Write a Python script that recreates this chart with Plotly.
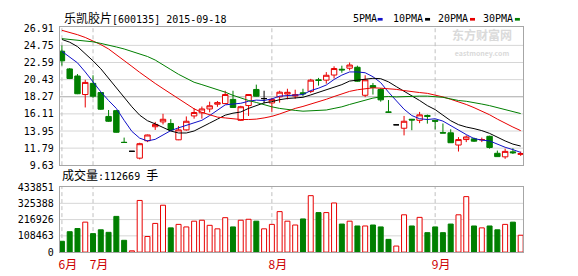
import plotly.graph_objects as go

# ---------------- data ----------------
dates = [
    "2015-06-25", "2015-06-26", "2015-06-29", "2015-06-30",
    "2015-07-01", "2015-07-02", "2015-07-03", "2015-07-06", "2015-07-07", "2015-07-08",
    "2015-07-09", "2015-07-10", "2015-07-13", "2015-07-14", "2015-07-15", "2015-07-16",
    "2015-07-17", "2015-07-20", "2015-07-21", "2015-07-22", "2015-07-23", "2015-07-24",
    "2015-07-27", "2015-07-28", "2015-07-29", "2015-07-30", "2015-07-31",
    "2015-08-03", "2015-08-04", "2015-08-05", "2015-08-06", "2015-08-07", "2015-08-10",
    "2015-08-11", "2015-08-12", "2015-08-13", "2015-08-14", "2015-08-17", "2015-08-18",
    "2015-08-19", "2015-08-20", "2015-08-21", "2015-08-24", "2015-08-25", "2015-08-26",
    "2015-08-27", "2015-08-28", "2015-08-31",
    "2015-09-01", "2015-09-02", "2015-09-07", "2015-09-08", "2015-09-09", "2015-09-10",
    "2015-09-11", "2015-09-14", "2015-09-15", "2015-09-16", "2015-09-17", "2015-09-18",
]

opens = [24.02, 21.78, 20.89, 18.55, 19.96, 18.80, 15.79, 16.52, 12.53, 11.39,
         10.53, 12.72, 14.49, 15.10, 14.90, 12.84, 14.09, 15.85, 16.24, 16.73,
         17.33, 17.41, 17.94, 15.30, 17.16, 19.19, 18.04, 17.49, 18.26, 18.62,
         18.37, 18.77, 18.95, 20.41, 20.37, 21.01, 21.74, 21.87, 21.99, 18.46,
         19.68, 19.19, 16.36, 14.73, 14.30, 15.43, 15.30, 15.91, 15.30, 13.75,
         13.72, 12.18, 12.87, 12.96, 12.85, 13.28, 11.14, 10.69, 11.32, 11.00]
highs = [24.75, 21.90, 21.14, 20.41, 20.98, 18.85, 16.60, 16.60, 13.12, 11.39,
         12.47, 13.50, 15.10, 16.12, 15.45, 14.58, 15.79, 16.82, 17.04, 17.65,
         17.73, 19.03, 19.03, 17.13, 18.60, 19.80, 19.03, 18.14, 19.03, 19.28,
         19.16, 19.28, 20.53, 20.65, 21.38, 22.11, 22.19, 22.59, 22.19, 20.98,
         20.01, 19.35, 17.86, 14.73, 15.85, 15.47, 16.36, 16.03, 15.36, 14.90,
         14.17, 13.18, 13.40, 13.12, 13.12, 13.36, 11.48, 11.72, 11.78, 11.36]
lows = [22.19, 20.50, 18.60, 16.92, 18.13, 16.60, 15.10, 13.75, 12.45, 11.39,
        10.37, 12.55, 14.09, 14.78, 14.00, 12.80, 14.00, 15.51, 15.51, 16.31,
        17.00, 17.35, 16.85, 15.22, 15.85, 18.30, 17.43, 16.36, 17.53, 17.94,
        18.02, 18.34, 18.74, 19.68, 19.92, 20.57, 21.30, 21.59, 20.16, 18.22,
        18.55, 17.65, 16.30, 14.73, 13.40, 14.05, 14.94, 14.88, 14.15, 13.69,
        12.45, 11.36, 12.55, 12.57, 12.55, 11.72, 10.70, 10.44, 11.05, 10.81]
closes = [22.80, 20.57, 18.65, 20.08, 18.34, 16.70, 15.18, 13.79, 12.50, 11.39,
          12.35, 13.45, 14.78, 15.43, 14.09, 14.09, 15.18, 16.28, 16.73, 17.13,
          17.53, 18.55, 16.92, 17.01, 18.55, 18.34, 18.04, 17.94, 18.85, 18.83,
          18.52, 18.65, 20.37, 20.32, 20.98, 21.83, 21.66, 22.27, 20.23, 20.41,
          19.44, 17.88, 16.31, 14.73, 15.18, 15.34, 15.99, 15.79, 15.18, 13.69,
          12.47, 12.87, 13.20, 12.67, 12.87, 11.87, 10.72, 11.38, 11.21, 11.11]

volumes = [72300, 136100, 157400, 200000, 123400, 148900, 131900, 238200, 78700, 8500,
           344600, 104200, 191400, 312700, 161700, 185000, 168000, 206300, 212700, 178700,
           155300, 229700, 168000, 212700, 219100, 206300, 155300, 185000, 270100, 206300,
           180800, 221200, 376500, 263700, 263700, 327600, 187200, 206300, 174400, 174400,
           180800, 168000, 85100, 40400, 248900, 174400, 231800, 129700, 168000, 129700,
           187200, 248900, 370100, 174400, 161700, 174400, 148900, 185000, 200000, 112669]

ma5 = [24.0, 23.3, 22.55, 21.4, 20.1, 18.9, 17.8, 16.8, 15.3, 13.9,
       13.05, 12.7, 12.9, 13.5, 14.0, 14.35, 14.7, 15.0, 15.3, 15.9,
       16.55, 17.25, 17.35, 17.45, 17.7, 17.85, 17.8, 18.0, 18.35, 18.4,
       18.45, 18.55, 19.05, 19.35, 19.75, 20.45, 21.0, 21.4, 21.4, 21.3,
       20.8, 20.05, 18.85, 17.75, 16.7, 15.9, 15.5, 15.4, 15.5, 15.2,
       14.6, 14.0, 13.5, 13.0, 12.8, 12.7, 12.25, 11.9, 11.6, 11.25]
ma10 = [25.5, 25.15, 24.6, 23.75, 22.8, 21.8, 20.6, 19.4, 18.15, 17.0,
        15.95, 15.25, 14.85, 14.4, 13.95, 13.7, 13.7, 13.95, 14.4, 14.95,
        15.45, 15.95, 16.2, 16.35, 16.8, 17.2, 17.5, 17.65, 17.9, 18.05,
        18.15, 18.2, 18.5, 18.85, 19.1, 19.45, 19.8, 20.25, 20.35, 20.5,
        20.6, 20.55, 20.15, 19.55, 19.0, 18.35, 17.8, 17.15, 16.65, 15.95,
        15.25, 14.75, 14.45, 14.25, 14.0, 13.65, 13.15, 12.7, 12.3, 12.05]
ma20 = [26.65, 26.4, 26.1, 25.75, 25.35, 24.85, 24.3, 23.6, 22.9, 22.1,
        21.35, 20.6, 19.95, 19.3, 18.65, 17.95, 17.3, 16.75, 16.3, 15.98,
        15.7, 15.6, 15.5, 15.4, 15.4, 15.45, 15.6, 15.8, 16.1, 16.5,
        16.8, 17.05, 17.35, 17.6, 17.95, 18.3, 18.65, 18.95, 19.15, 19.3,
        19.4, 19.35, 19.3, 19.2, 19.05, 18.9, 18.8, 18.7, 18.5, 18.25,
        17.95, 17.65, 17.3, 16.9, 16.5, 16.0, 15.45, 14.9, 14.45, 14.0]
ma30 = [25.6, 25.5, 25.4, 25.3, 25.2, 25.0, 24.8, 24.55, 24.3, 24.0,
        23.7, 23.35, 22.9, 22.35, 21.7, 21.1, 20.55, 20.1, 19.8, 19.5,
        19.2, 18.85, 18.45, 18.1, 17.8, 17.55, 17.25, 17.0, 16.8, 16.65,
        16.55, 16.45, 16.5, 16.55, 16.6, 16.8, 17.0, 17.3, 17.55, 17.85,
        18.1, 18.25, 18.3, 18.25, 18.3, 18.35, 18.35, 18.35, 18.3, 18.2,
        18.0, 17.8, 17.7, 17.55, 17.35, 17.15, 16.9, 16.7, 16.45, 16.15]

price_ticks = [26.91, 24.75, 22.59, 20.43, 18.27, 16.11, 13.95, 11.79, 9.63]
vol_ticks = [0, 108463, 216926, 325388, 433851]
ma_names = ["5PMA", "10PMA", "20PMA", "30PMA"]
title_text = "乐凯胶片[600135] 2015-09-18"
vol_label = "成交量"
vol_unit = "手"
last_volume = volumes[-1]
watermark_cn = "东方财富网"
watermark_en = "eastmoney.com"

# ---------------- styles ----------------
W, H = 578, 276
RED = "#e80000"
GREEN = "#007f00"
BLUE = "#1010c8"
BLACK = "#000000"
ma_colors = [BLUE, BLACK, RED, GREEN]
MONO = "DejaVu Sans Mono, Noto Sans CJK SC"
CJK = "Noto Sans CJK SC"

def fx(px):
    return px / W

def fy(py):
    return 1 - py / H

X_DOM = [fx(59), fx(523)]
Y1_DOM = [fy(166.5), fy(21.7)]
Y2_DOM = [fy(257.3), fy(189.3)]
XR = [-0.26, 59.31]

x = list(range(len(dates)))
month_idx = [i for i, d in enumerate(dates) if i == 0 or d[5:7] != dates[i - 1][5:7]]
month_txt = [f"{int(dates[i][5:7])}月" for i in month_idx]

up = [i for i in x if closes[i] > opens[i]]
dn = [i for i in x if closes[i] < opens[i]]
fl = [i for i in x if closes[i] == opens[i]]

def sub(arr, idx):
    return [arr[i] for i in idx]

fig = go.Figure()

# volume bars
vcol = [("white" if closes[i] >= opens[i] else GREEN) for i in x]
vline = [(RED if closes[i] >= opens[i] else GREEN) for i in x]
fig.add_trace(go.Bar(x=x, y=volumes, xaxis="x2", yaxis="y2",
                     marker=dict(color=vcol, line=dict(color=vline, width=1)),
                     showlegend=False, hoverinfo="skip"))

def candle(idx, inc_line, inc_fill, dec_line, dec_fill):
    return go.Candlestick(
        x=idx, open=sub(opens, idx), high=sub(highs, idx), low=sub(lows, idx),
        close=sub(closes, idx), xaxis="x", yaxis="y", whiskerwidth=0,
        increasing=dict(line=dict(color=inc_line, width=1), fillcolor=inc_fill),
        decreasing=dict(line=dict(color=dec_line, width=1), fillcolor=dec_fill),
        showlegend=False, hoverinfo="skip")

fig.add_trace(candle(up, RED, "white", RED, "white"))
fig.add_trace(candle(dn, GREEN, GREEN, GREEN, GREEN))
fig.add_trace(candle(fl, BLACK, BLACK, BLACK, BLACK))

for vals, col in zip([ma5, ma10, ma20, ma30], ma_colors):
    fig.add_trace(go.Scatter(x=x, y=vals, mode="lines", xaxis="x", yaxis="y",
                             line=dict(color=col, width=1), showlegend=False,
                             hoverinfo="skip"))

shapes = []
# horizontal grid lines
mid = price_ticks[len(price_ticks) // 2]
for v in price_ticks[1:-1]:
    shapes.append(dict(type="line", xref="x domain", yref="y", x0=0, x1=1, y0=v, y1=v,
                       line=dict(color="#a8a8a8" if v == mid else "#d6d6d6", width=1),
                       layer="below"))
for v in vol_ticks[1:-1]:
    shapes.append(dict(type="line", xref="x2 domain", yref="y2", x0=0, x1=1, y0=v, y1=v,
                       line=dict(color="#d6d6d6", width=1), layer="below"))
# month separators
for i in month_idx:
    for xr, yr in [("x", "y domain"), ("x2", "y2 domain")]:
        shapes.append(dict(type="line", xref=xr, yref=yr, x0=i, x1=i, y0=0, y1=1,
                           line=dict(color="#c0c0c0", width=1, dash="4px,3px"),
                           layer="below"))

annotations = []
annotations.append(dict(
    xref="paper", yref="paper", x=fx(61), y=fy(13.3), xanchor="left", yanchor="middle",
    showarrow=False, font=dict(family=MONO, size=10, color="#000"),
    text='<span style="font-size:12px">' + title_text[:4] + '</span>' + title_text[4:]))
annotations.append(dict(
    xref="paper", yref="paper", x=fx(59.5), y=fy(176.7), xanchor="left", yanchor="middle",
    showarrow=False, font=dict(family=MONO, size=10, color="#000"),
    text='<span style="font-size:12px">' + vol_label + '</span>:' + str(last_volume)
         + ' <span style="font-size:12px">' + vol_unit + '</span>'))

leg_x = [351.5, 391.5, 436.5, 481.5]
mark_x = [377.3, 424.8, 469.8, 514.8]
for name, col, lx, mx in zip(ma_names, ma_colors, leg_x, mark_x):
    annotations.append(dict(xref="paper", yref="paper", x=fx(lx), y=fy(13.0),
                            xanchor="left", yanchor="middle", showarrow=False,
                            borderpad=0,
                            font=dict(family=MONO, size=10, color="#000"), text=name))
    shapes.append(dict(type="rect", xref="paper", yref="paper",
                       x0=fx(mx), x1=fx(mx + 5), y0=fy(15.3), y1=fy(12.5),
                       fillcolor=col, line=dict(width=0)))

# watermark (one text block)
annotations.append(dict(xref="paper", yref="paper", x=fx(482), y=fy(38), xanchor="center",
                        yanchor="middle", showarrow=False, borderpad=0,
                        font=dict(family=CJK, size=12, color="#dadada", weight="bold"),
                        text=watermark_cn + '<br><span style="font-size:7px">'
                             + watermark_en + '</span>'))

axis_common = dict(showline=True, mirror=True, linecolor="#a6a6a6", linewidth=1,
                   zeroline=False, showgrid=False, fixedrange=True)

fig.update_layout(
    width=W, height=H, margin=dict(l=0, r=0, t=0, b=0),
    paper_bgcolor="white", plot_bgcolor="white",
    showlegend=False, bargap=0.36, boxgap=0.3, boxgroupgap=0.0,
    font=dict(family=MONO, size=10, color="#000"),
    xaxis=dict(domain=X_DOM, range=XR, anchor="y", showticklabels=False,
               rangeslider=dict(visible=False), **axis_common),
    yaxis=dict(domain=Y1_DOM, range=[9.63, 27.1], anchor="x", tickmode="array",
               tickvals=price_ticks, ticktext=[f"{v:.2f}" for v in price_ticks],
               ticks="", ticklabelstandoff=3,
               tickfont=dict(family=MONO, size=10, color="#000"), **axis_common),
    xaxis2=dict(domain=X_DOM, range=XR, anchor="y2", tickmode="array",
                tickvals=month_idx, ticktext=month_txt, ticks="",
                ticklabelshift=6, ticklabelstandoff=1,
                tickfont=dict(family=CJK, size=12, color="#cc0000"),
                rangeslider=dict(visible=False), **axis_common),
    yaxis2=dict(domain=Y2_DOM, range=[0, vol_ticks[-1]], anchor="x2", tickmode="array",
                tickvals=vol_ticks, ticktext=[str(v) for v in vol_ticks],
                ticks="", ticklabelstandoff=3,
                tickfont=dict(family=MONO, size=10, color="#000"), **axis_common),
    shapes=shapes, annotations=annotations,
)

fig.write_html("out.html")
